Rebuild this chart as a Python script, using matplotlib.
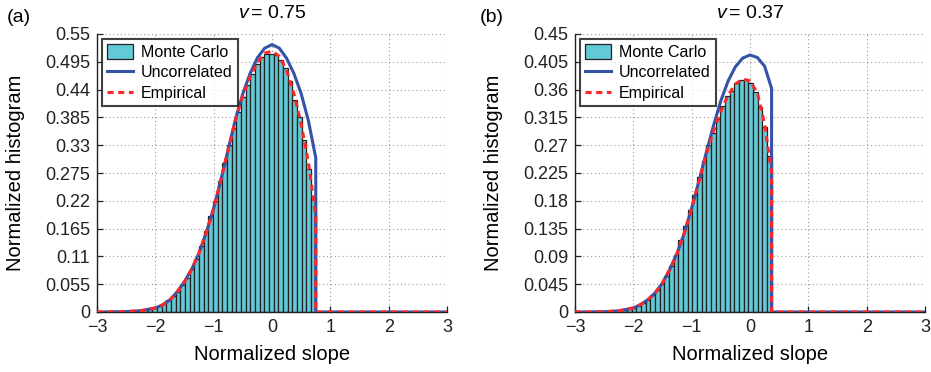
import matplotlib
matplotlib.use("Agg")
import matplotlib.pyplot as plt
import numpy as np

plt.rcParams['font.family'] = ['Liberation Sans', 'DejaVu Sans']
plt.rcParams['mathtext.fontset'] = 'custom'
plt.rcParams['mathtext.it'] = 'Liberation Sans:italic'
plt.rcParams['mathtext.rm'] = 'Liberation Sans'

# ---- panel (a): v = 0.75 ----
v_a = 0.75
bin_width = 0.08
mc_a = [0.0, 0.0001, 0.0002, 0.0003, 0.0005, 0.0008, 0.0012, 0.0018, 0.0027,
        0.004, 0.006, 0.0085, 0.012, 0.017, 0.023, 0.031, 0.04, 0.053, 0.068,
        0.085, 0.105, 0.13, 0.16, 0.19, 0.22, 0.26, 0.295, 0.33, 0.365, 0.395,
        0.425, 0.45, 0.47, 0.49, 0.505, 0.51, 0.51, 0.508, 0.498, 0.483, 0.458,
        0.42, 0.385, 0.34, 0.283, 0.225]

unc_a_x = [-3, -2.75, -2.5, -2.25, -2.0, -1.875, -1.75, -1.625, -1.5, -1.375,
           -1.25, -1.125, -1.0, -0.875, -0.75, -0.625, -0.5, -0.375, -0.25,
           -0.125, 0, 0.125, 0.25, 0.375, 0.5, 0.625, 0.75, 0.75, 3]
unc_a_y = [0, 0.0003, 0.0008, 0.0025, 0.008, 0.014, 0.024, 0.04, 0.06, 0.085,
           0.117, 0.158, 0.205, 0.262, 0.322, 0.382, 0.432, 0.472, 0.503,
           0.522, 0.529, 0.522, 0.502, 0.472, 0.432, 0.378, 0.305, 0, 0]

emp_a_x = [-3, -2.75, -2.5, -2.25, -2.0, -1.875, -1.75, -1.625, -1.5, -1.375,
           -1.25, -1.125, -1.0, -0.875, -0.75, -0.625, -0.5, -0.375, -0.25,
           -0.125, 0, 0.125, 0.25, 0.375, 0.5, 0.625, 0.75, 0.75, 3]
emp_a_y = [0, 0.0003, 0.0008, 0.0025, 0.008, 0.014, 0.024, 0.04, 0.06, 0.085,
           0.117, 0.158, 0.205, 0.262, 0.322, 0.38, 0.428, 0.465, 0.493,
           0.512, 0.516, 0.506, 0.478, 0.432, 0.372, 0.295, 0.19, 0, 0]

yticks_a = [0, 0.055, 0.11, 0.165, 0.22, 0.275, 0.33, 0.385, 0.44, 0.495, 0.55]
yticklabels_a = ['0', '0.055', '0.11', '0.165', '0.22', '0.275', '0.33',
                 '0.385', '0.44', '0.495', '0.55']

# ---- panel (b): v = 0.37 ----
v_b = 0.37
mc_b = [0, 0, 0.0001, 0.0001, 0.0002, 0.0003, 0.0005, 0.0008, 0.0013, 0.002,
        0.003, 0.0045, 0.0065, 0.0098, 0.014, 0.019, 0.027, 0.035, 0.046,
        0.059, 0.075, 0.093, 0.116, 0.139, 0.165, 0.19, 0.218, 0.245, 0.27,
        0.29, 0.312, 0.333, 0.35, 0.358, 0.37, 0.376, 0.377, 0.37, 0.356,
        0.332, 0.30, 0.252]

unc_b_x = [-3, -2.75, -2.5, -2.25, -2.0, -1.875, -1.75, -1.625, -1.5, -1.375,
           -1.25, -1.125, -1.0, -0.875, -0.75, -0.625, -0.5, -0.375, -0.25,
           -0.125, 0, 0.125, 0.25, 0.37, 0.37, 3]
unc_b_y = [0, 0.0001, 0.0005, 0.0018, 0.0065, 0.012, 0.02, 0.031, 0.047, 0.069,
           0.095, 0.128, 0.168, 0.212, 0.258, 0.302, 0.342, 0.374, 0.397,
           0.411, 0.416, 0.412, 0.398, 0.362, 0, 0]

emp_b_x = [-3, -2.75, -2.5, -2.25, -2.0, -1.875, -1.75, -1.625, -1.5, -1.375,
           -1.25, -1.125, -1.0, -0.875, -0.75, -0.625, -0.5, -0.375, -0.25,
           -0.125, 0, 0.125, 0.25, 0.37, 0.37, 3]
emp_b_y = [0, 0.0001, 0.0005, 0.0018, 0.0065, 0.012, 0.02, 0.031, 0.047, 0.069,
           0.095, 0.128, 0.168, 0.212, 0.255, 0.293, 0.325, 0.351, 0.369,
           0.377, 0.374, 0.355, 0.305, 0.225, 0, 0]

yticks_b = [0, 0.045, 0.09, 0.135, 0.18, 0.225, 0.27, 0.315, 0.36, 0.405, 0.45]
yticklabels_b = ['0', '0.045', '0.09', '0.135', '0.18', '0.225', '0.27',
                 '0.315', '0.36', '0.405', '0.45']

xticks = [-3, -2, -1, 0, 1, 2, 3]

BAR_COLOR = '#62C9D7'
BLUE = '#3352A8'
RED = '#FF2626'

fig = plt.figure(figsize=(9.31, 3.72), dpi=100)
ax_a = fig.add_axes([97 / 931, 60 / 372, 350 / 931, 278 / 372])
ax_b = fig.add_axes([575 / 931, 60 / 372, 350 / 931, 278 / 372])


def draw_panel(ax, v, heights, ux, uy, ex, ey, yticks, ylabels, title):
    n = len(heights)
    lefts = v - bin_width * (n - np.arange(n))
    bars = ax.bar(lefts, heights, width=bin_width, align='edge',
                  color=BAR_COLOR, edgecolor='#222222', linewidth=0.9,
                  zorder=2)
    l_unc, = ax.plot(ux, uy, color=BLUE, lw=2.2, zorder=3,
                     solid_joinstyle='miter')
    l_emp, = ax.plot(ex, ey, color=RED, lw=2.2, ls=(0, (2.0, 1.5)), zorder=4)
    ax.set_xlim(-3, 3)
    ax.set_ylim(0, yticks[-1])
    ax.set_xticks(xticks)
    ax.set_yticks(yticks)
    ax.set_yticklabels(ylabels)
    ax.grid(True, ls=(0, (1, 2.5)), color='#999999', lw=0.8, zorder=0)
    ax.set_axisbelow(True)
    for s in ['top', 'right']:
        ax.spines[s].set_visible(False)
    for s in ['left', 'bottom']:
        ax.spines[s].set_linewidth(1.0)
        ax.spines[s].set_color('#222222')
    ax.tick_params(direction='in', length=4, labelsize=13, width=0.9,
                   colors='#222222', pad=5)
    ax.set_xlabel('Normalized slope', fontsize=14.5)
    ax.xaxis.set_label_coords(0.5, -0.119)
    ax.set_ylabel('Normalized histogram', fontsize=14.5)
    ax.yaxis.set_label_coords(-0.206, 0.5)
    ax.text(0.5, 1.072, title, transform=ax.transAxes, fontsize=14,
            ha='center', va='center')
    leg = ax.legend([bars, l_unc, l_emp],
                    ['Monte Carlo', 'Uncorrelated', 'Empirical'],
                    loc='upper left', fontsize=11.5, frameon=True,
                    fancybox=False, edgecolor='#111111', borderaxespad=0.3,
                    handlelength=1.6, handleheight=1.0, labelspacing=0.3,
                    borderpad=0.35, handletextpad=0.5)
    leg.get_frame().set_linewidth(1.5)
    leg.set_zorder(10)


draw_panel(ax_a, v_a, mc_a, unc_a_x, unc_a_y, emp_a_x, emp_a_y,
           yticks_a, yticklabels_a, r'$v\!$ = 0.75')
draw_panel(ax_b, v_b, mc_b, unc_b_x, unc_b_y, emp_b_x, emp_b_y,
           yticks_b, yticklabels_b, r'$v\!$ = 0.37')

fig.text(7 / 931, 1 - 17 / 372, '(a)', fontsize=14, ha='left', va='center')
fig.text(480 / 931, 1 - 17 / 372, '(b)', fontsize=14, ha='left', va='center')

fig.savefig('out.png', dpi=100)
